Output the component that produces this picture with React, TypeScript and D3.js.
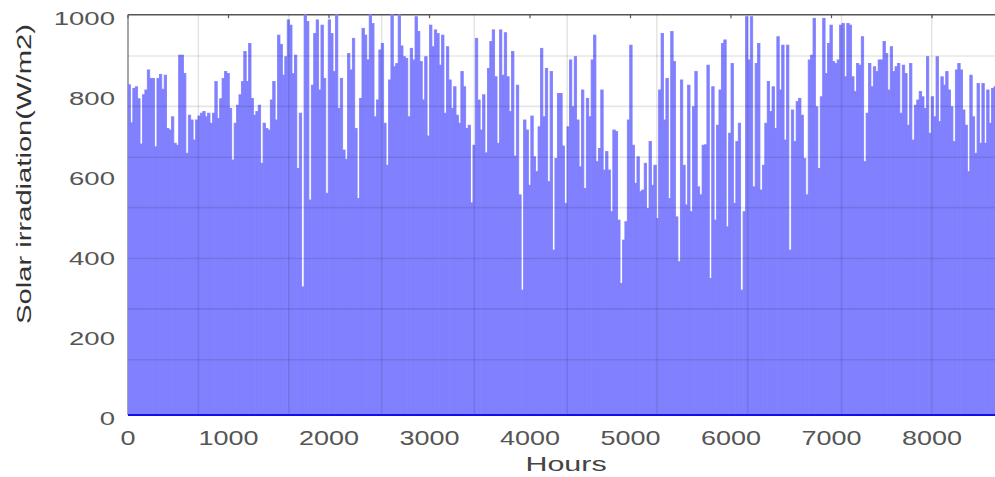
import React from 'react';
import * as d3 from 'd3';

// Daily peak solar irradiation (W/m2), one value per 24-hour block
const winterDays: number[] = [
  825, 730, 816, 820, 790, 677, 800, 812, 862, 841,
  841, 670, 841, 851, 814, 849, 716, 712, 745, 679,
  674, 899, 899, 853, 654, 749, 737, 687, 737, 747,
  754, 758, 745, 754, 729, 754, 833, 741, 790, 841,
  858, 853, 766, 637, 729, 774, 800, 833, 908, 833,
  928, 791, 749, 758, 774, 629, 729, 716, 712,
];
const springDays: number[] = [
  787, 833, 737, 949, 926, 849, 895, 987, 974, 853,
  899, 616, 754, 320, 1000, 983, 537, 824, 953, 987,
  812, 974, 841, 554, 987, 953, 858, 1000, 766, 841,
  662, 639, 903, 862, 941, 716, 541, 791, 966, 949,
  887, 1000, 978, 745, 787, 912, 928, 729, 624, 837,
  1000, 870, 878, 1000, 922, 895, 891, 745, 916, 887,
];
const earlySummerDays: number[] = [
  995, 958, 883, 787, 895, 697, 974, 920, 962, 953,
  874, 949, 754, 920, 837, 766, 820, 749, 729, 858,
  820, 716, 724, 530, 674, 941, 787, 712, 800, 655,
  866, 933, 962, 845, 679, 962, 849, 955, 845, 758,
  908, 647, 824, 550, 312, 737, 712, 574, 747, 645,
  608, 720, 916, 745, 866, 583, 858, 412, 641, 803,
];
const lateSummerDays: number[] = [
  803, 672, 529, 720, 887, 770, 895, 737, 620, 812,
  566, 791, 745, 887, 949, 633, 666, 812, 612, 658,
  612, 508, 712, 708, 487, 329, 437, 483, 737, 924,
  674, 579, 645, 558, 562, 629, 516, 683, 574, 624,
  491, 812, 953, 737, 841, 541, 958, 883, 495, 383,
  837, 624, 525, 824, 508, 770, 858, 570, 550, 674,
];
const autumnDays: number[] = [
  675, 874, 341, 820, 487, 724, 812, 928, 937, 470,
  704, 878, 529, 683, 729, 312, 508, 995, 887, 995,
  570, 878, 928, 562, 624, 729, 833, 758, 820, 716,
  945, 812, 924, 687, 924, 412, 762, 683, 783, 791,
  749, 641, 550, 887, 899, 991, 770, 616, 795, 991,
  853, 928, 974, 883, 878, 887, 974, 978, 845, 978,
];
const lateYearDays: number[] = [
  974, 845, 808, 878, 874, 945, 633, 754, 878, 820,
  870, 858, 887, 887, 933, 903, 812, 920, 858, 870,
  878, 754, 874, 853, 724, 878, 687, 774, 787, 808,
  795, 766, 895, 704, 795, 745, 895, 733, 845, 824,
  858, 812, 770, 683, 862, 878, 862, 762, 724, 608,
  849, 745, 654, 828, 679, 828, 679, 812, 729, 816,
  820,
];

const dailyIrradiation: number[] = [
  ...winterDays, ...springDays, ...earlySummerDays,
  ...lateSummerDays, ...autumnDays, ...lateYearDays,
];
const HOURS_PER_DAY = 24;

const xTicks: number[] = [0, 1000, 2000, 3000, 4000, 5000, 6000, 7000, 8000];
const yTicks: number[] = [0, 200, 400, 600, 800, 1000];
// grid lines of the plot background
const gridHours: number[] = [700, 1600, 2525, 3445, 4370, 5262, 6166, 7100, 7997];
const gridLevels: number[] = [138, 265, 391, 518, 644, 771, 897];

const W = 995;
const H = 477;
const LEFT = 128;
const RIGHT = 995;
const TOP = 14.7;
const BOTTOM = 415;

const FONT = '"Liberation Sans", Arial, sans-serif';

export default function App() {
  const x = d3.scaleLinear().domain([0, 8760]).range([LEFT, 1008.4]);
  const y = d3.scaleLinear().domain([0, 1000]).range([BOTTOM, TOP]);

  return (
    <div style={{ position: 'absolute', left: 0, top: 0 }}>
      <svg width={W} height={H} style={{ display: 'block', background: '#fff' }}>
        <defs>
          <clipPath id="plotClip">
            <rect x={LEFT} y={TOP - 1} width={RIGHT - LEFT} height={BOTTOM - TOP + 1} />
          </clipPath>
        </defs>

        {/* frame: top border and left axis */}
        <line x1={LEFT} x2={RIGHT} y1={TOP} y2={TOP} stroke="#555" strokeWidth={1.6} />
        <line x1={LEFT} x2={LEFT} y1={TOP} y2={BOTTOM} stroke="#888" strokeWidth={1.5} />
        {xTicks.map((t) => (
          <line key={'tt' + t} x1={x(t)} x2={x(t)} y1={TOP} y2={TOP + 3.5} stroke="#555" strokeWidth={1.2} />
        ))}

        {/* daily bars */}
        <g clipPath="url(#plotClip)">
          {dailyIrradiation.map((v, i) => {
            const x0 = x(i * HOURS_PER_DAY);
            const x1 = x((i + 1) * HOURS_PER_DAY);
            const top = y(Math.min(v, 1000));
            return (
              <rect
                key={i}
                x={x0}
                y={top}
                width={x1 - x0}
                height={y(0) - top}
                fill="#8080ff"
                stroke="#8080ff"
                strokeWidth={0.8}
              />
            );
          })}
        </g>

        {/* grid */}
        <g clipPath="url(#plotClip)">
          {gridHours.map((h) => (
            <line key={'gx' + h} x1={x(h)} x2={x(h)} y1={TOP} y2={BOTTOM} stroke="#000" strokeOpacity={0.1} strokeWidth={1.6} />
          ))}
          {gridLevels.map((g) => (
            <line key={'gy' + g} x1={LEFT} x2={RIGHT} y1={y(g)} y2={y(g)} stroke="#000" strokeOpacity={0.1} strokeWidth={1.6} />
          ))}
        </g>

        {/* baseline */}
        <line x1={LEFT} x2={RIGHT} y1={BOTTOM} y2={BOTTOM} stroke="#1010ee" strokeWidth={2} />

        {/* y tick labels */}
        {yTicks.map((t) => (
          <g key={'yl' + t} transform={`translate(115,${y(t) + 10}) scale(1.45,1)`}>
            <text textAnchor="end" fontFamily={FONT} fontSize={19} fill="#555">
              {t}
            </text>
          </g>
        ))}

        {/* x tick labels */}
        {xTicks.map((t) => (
          <g key={'xl' + t} transform={`translate(${x(t)},445) scale(1.35,1)`}>
            <text textAnchor="middle" fontFamily={FONT} fontSize={20} fill="#555">
              {t}
            </text>
          </g>
        ))}

        {/* axis titles */}
        <g transform="translate(566,471) scale(1.45,1)">
          <text textAnchor="middle" fontFamily={FONT} fontSize={21} fill="#444">
            Hours
          </text>
        </g>
        <g transform="translate(31,174) rotate(-90) scale(1.39,1)">
          <text textAnchor="middle" fontFamily={FONT} fontSize={21} fill="#333">
            Solar irradiation(W/m2)
          </text>
        </g>
      </svg>
    </div>
  );
}
